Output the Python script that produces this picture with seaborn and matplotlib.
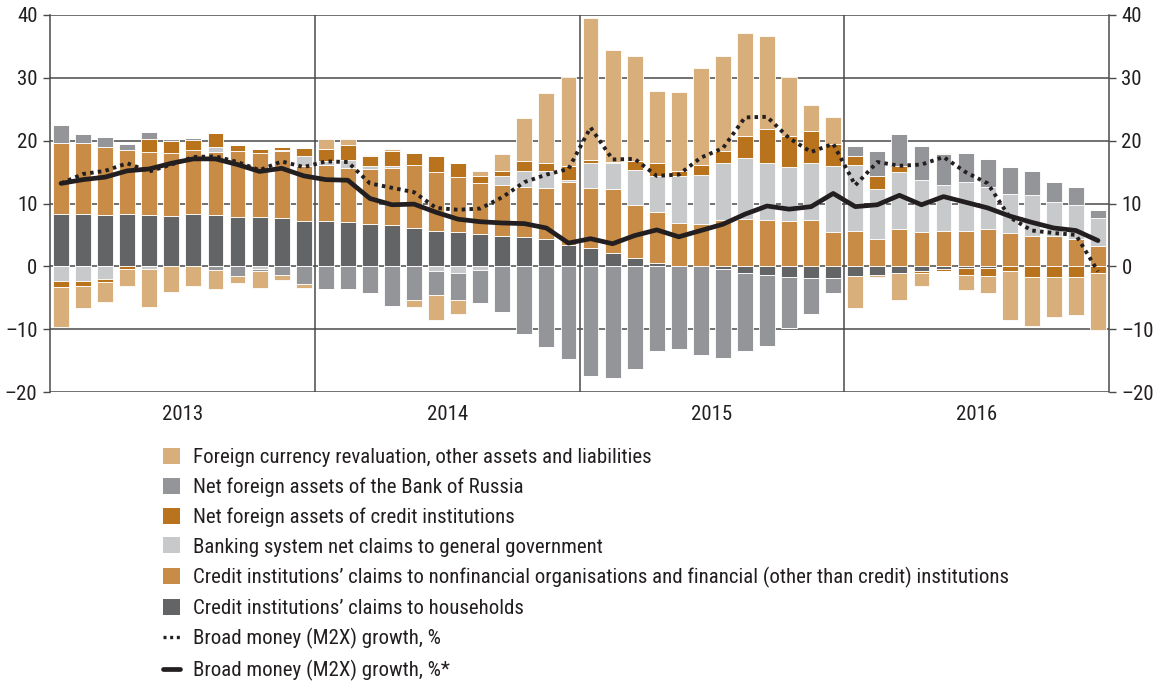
import numpy as np
import matplotlib
matplotlib.use("Agg")
import matplotlib.pyplot as plt
from matplotlib import font_manager
from matplotlib.patches import Patch
from matplotlib.lines import Line2D
import seaborn as sns

# ---------------- data (percentage points, monthly 2013-2016) ----------------
years = ["2013", "2014", "2015", "2016"]

households = [8.4, 8.4, 8.2, 8.25, 8.15, 8.0, 8.25, 8.15, 7.9, 7.8, 7.7, 7.2,
              7.2, 7.0, 6.8, 6.5, 6.1, 5.7, 5.4, 5.1, 4.9, 4.6, 4.3, 3.4,
              2.9, 2.2, 1.4, 0.6, 0.1, 0.0, -0.5, -1.0, -1.4, -1.7, -1.9, -1.8,
              -1.5, -1.3, -1.0, -0.8, -0.5, -0.3, -0.2, 0.0, 0.0, 0.0, 0.0, 0.0]

nonfinancial = [11.2, 11.2, 10.8, 10.2, 10.0, 10.1, 10.3, 10.0, 10.4, 10.2, 10.6, 8.7,
                9.0, 8.6, 8.7, 9.1, 10.1, 9.3, 8.8, 8.2, 8.0, 8.1, 8.1, 10.0,
                9.6, 10.1, 8.4, 8.0, 6.8, 6.8, 7.4, 7.6, 7.3, 7.2, 7.4, 5.4,
                5.6, 4.3, 5.9, 5.4, 5.6, 5.6, 5.9, 5.3, 4.9, 4.9, 4.3, 3.3]

government = [-2.4, -2.4, -2.0, 0.0, -0.5, 0.0, 0.0, 0.8, 0.0, -0.5, 0.2, 1.6,
              0.6, 1.3, 0.5, 0.3, 0.0, -0.8, -1.0, -0.6, 1.4, 2.4, 2.7, 0.4,
              3.9, 4.1, 5.5, 5.8, 7.4, 7.8, 9.0, 9.6, 9.1, 8.6, 9.0, 10.6,
              10.5, 8.0, 9.1, 8.3, 7.4, 7.9, 6.7, 6.2, 6.4, 5.4, 5.5, 4.4]

nfa_credit = [-0.9, -0.7, -0.5, -0.4, 2.1, 1.9, 1.5, 2.2, 1.0, 0.7, 0.5, 1.4,
              1.8, 2.4, 1.5, 2.5, 1.9, 2.6, 2.3, 1.1, 0.8, 1.6, 1.3, 2.1,
              0.5, 0.2, 1.4, 2.1, 0.8, 1.5, 2.0, 3.6, 5.4, 4.9, 5.2, 3.4,
              1.5, 2.1, 0.9, -0.3, -0.3, -1.0, -1.3, -0.8, -1.7, -1.7, -1.7, -1.0]

nfa_bor = [2.9, 1.5, 1.6, 1.0, 1.2, 0.3, 0.4, -0.6, -1.5, -0.3, -1.4, -2.75,
           -3.6, -3.6, -4.3, -6.3, -5.3, -3.8, -4.4, -5.3, -7.2, -10.7, -12.9, -14.8,
           -17.4, -17.7, -16.4, -13.5, -13.2, -14.1, -14.1, -12.4, -11.3, -8.1, -5.7, -2.5,
           1.5, 3.9, 5.2, 5.5, 4.9, 4.5, 4.5, 4.3, 3.8, 3.2, 2.9, 1.3]

fx_other = [-6.3, -3.5, -3.1, -2.7, -6.0, -4.1, -3.1, -3.0, -1.1, -2.6, -0.8, -0.7,
            1.7, 0.9, 0.2, 0.2, -1.2, -4.0, -2.2, 0.7, 2.8, 6.9, 11.2, 14.2,
            22.6, 17.9, 16.8, 11.4, 12.6, 15.4, 15.1, 16.3, 14.8, 9.5, 4.1, 4.4,
            -5.1, -0.4, -4.3, -2.0, 0.2, -2.5, -2.8, -7.8, -7.8, -6.4, -6.1, -9.1]

m2x_growth = [13.2, 14.7, 15.2, 16.4, 15.1, 16.2, 17.4, 17.5, 16.6, 15.3, 16.7, 15.8,
              16.7, 16.6, 13.2, 12.5, 11.8, 9.3, 9.0, 9.2, 11.0, 13.4, 14.6, 15.5,
              22.1, 17.0, 17.1, 14.4, 14.6, 17.3, 18.8, 23.7, 23.8, 20.4, 18.2, 19.5,
              12.9, 16.6, 16.0, 16.2, 17.4, 15.0, 13.2, 7.8, 5.7, 5.3, 5.0, -0.8]

m2x_growth_adj = [13.2, 13.8, 14.2, 15.2, 15.5, 16.4, 17.1, 17.1, 16.2, 15.1, 15.6, 14.4,
                  13.8, 13.7, 10.8, 9.8, 9.9, 8.6, 7.5, 7.1, 6.9, 6.8, 6.1, 3.7,
                  4.4, 3.6, 4.9, 5.8, 4.7, 5.7, 6.7, 8.3, 9.6, 9.1, 9.5, 11.6,
                  9.5, 9.8, 11.3, 9.8, 11.1, 10.2, 9.3, 8.0, 7.0, 6.1, 5.7, 4.1]

labels = {
    "fx": "Foreign currency revaluation, other assets and liabilities",
    "bor": "Net foreign assets of the Bank of Russia",
    "ci": "Net foreign assets of credit institutions",
    "gov": "Banking system net claims to general government",
    "nonfin": "Credit institutions\u2019 claims to nonfinancial organisations and financial (other than credit) institutions",
    "hh": "Credit institutions\u2019 claims to households",
    "m2x": "Broad money (M2X) growth, %",
    "m2xa": "Broad money (M2X) growth, %*",
}

colors = {
    "fx": "#D8AE7B",
    "bor": "#949599",
    "ci": "#B8731C",
    "gov": "#C8C9CB",
    "nonfin": "#C98C46",
    "hh": "#636466",
}
line_color = "#231F20"
grid_color = "#4A4A4A"
text_color = "#231F20"

# ---------------- style ----------------
sns.set_theme(style="white")
avail = {f.name for f in font_manager.fontManager.ttflist}
fam = [f for f in ["Liberation Sans Narrow", "Roboto Condensed", "Liberation Sans"] if f in avail]
plt.rcParams["font.family"] = fam + ["DejaVu Sans"]
plt.rcParams["axes.unicode_minus"] = True

fig = plt.figure(figsize=(11.59, 6.84), dpi=100)
ax = fig.add_axes([50 / 1159, 1 - 392 / 684, (1109 - 50) / 1159, (392 - 15) / 684])

n = len(households)
x = np.arange(n)

series = [("hh", households), ("nonfin", nonfinancial), ("gov", government),
          ("ci", nfa_credit), ("bor", nfa_bor), ("fx", fx_other)]
pos_bottom = np.zeros(n)
neg_bottom = np.zeros(n)
for key, vals in series:
    v = np.asarray(vals, dtype=float)
    pos = np.where(v > 0, v, 0)
    neg = np.where(v < 0, v, 0)
    ax.bar(x, pos, bottom=pos_bottom, width=0.72, color=colors[key],
           edgecolor="white", linewidth=0.6, zorder=3)
    ax.bar(x, neg, bottom=neg_bottom, width=0.72, color=colors[key],
           edgecolor="white", linewidth=0.6, zorder=3)
    pos_bottom += pos
    neg_bottom += neg

sns.lineplot(x=x, y=m2x_growth, ax=ax, color=line_color, linewidth=2.8,
             linestyle=(0, (0.9, 1.1)), zorder=5)
sns.lineplot(x=x, y=m2x_growth_adj, ax=ax, color=line_color, linewidth=3.4,
             solid_joinstyle="round", zorder=6)

# grid / frame
yt = np.arange(-20, 41, 10)
for yv in yt:
    ax.axhline(yv, color=grid_color, lw=1.1, zorder=1)
for b in [11.5, 23.5, 35.5]:
    ax.axvline(b, color=grid_color, lw=1.1, zorder=1)

ax.set_xlim(-0.5, n - 0.5)
ax.set_ylim(-20, 40)
ax.set_yticks(yt)
ax.set_yticklabels([f"{v}".replace("-", "\u2013") for v in yt])
ax.set_xticks([5.5, 17.5, 29.5, 41.5])
ax.set_xticklabels(years)
ax.set_xticks([-0.5, 11.5, 23.5, 35.5, 47.5], minor=True)
ax.tick_params(axis="x", which="major", length=0, pad=9, labelsize=15, labelcolor=text_color)
ax.tick_params(axis="x", which="minor", length=5, width=1, color=grid_color, direction="out")
ax.tick_params(axis="y", which="major", left=True, right=True, labelleft=True, labelright=True,
               length=5, width=1, color=grid_color, direction="out", labelsize=15,
               labelcolor=text_color, pad=4)
for s in ["top", "bottom"]:
    ax.spines[s].set_visible(False)
for s in ["left", "right"]:
    ax.spines[s].set_color(grid_color)
    ax.spines[s].set_linewidth(1.1)
ax.set_xlabel("")
ax.set_ylabel("")

# legend
handles = [
    Patch(facecolor=colors["fx"], edgecolor="none"),
    Patch(facecolor=colors["bor"], edgecolor="none"),
    Patch(facecolor=colors["ci"], edgecolor="none"),
    Patch(facecolor=colors["gov"], edgecolor="none"),
    Patch(facecolor=colors["nonfin"], edgecolor="none"),
    Patch(facecolor=colors["hh"], edgecolor="none"),
    Line2D([], [], color=line_color, lw=2.4, linestyle=(0, (0.9, 1.1))),
    Line2D([], [], color=line_color, lw=3.4),
]
leg_labels = [labels[k] for k in ["fx", "bor", "ci", "gov", "nonfin", "hh", "m2x", "m2xa"]]
fig.legend(handles, leg_labels, loc="upper left", bbox_to_anchor=(163 / 1159, 1 - 448 / 684),
           frameon=False, fontsize=15, handlelength=0.8, handleheight=0.8,
           handletextpad=0.65, labelspacing=0.5, borderaxespad=0, borderpad=0,
           labelcolor=text_color)

fig.savefig("out.png", dpi=100)
